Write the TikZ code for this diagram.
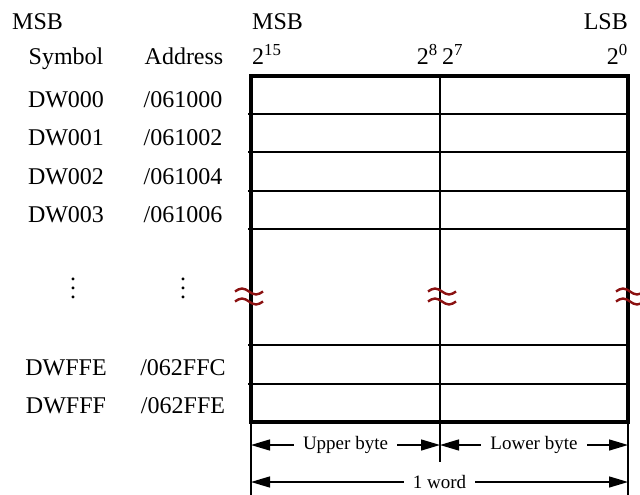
\documentclass[tikz,border=0pt]{standalone}
\usepackage{fontspec}
\setmainfont{Liberation Serif}
\usetikzlibrary{arrows.meta,calc}
\definecolor{breakred}{HTML}{8B1212}
\newcommand{\coldots}{\vbox{\baselineskip=9pt\lineskiplimit=-10pt\hbox{.}\hbox{.}\hbox{.}}}
\tikzset{
  txt/.style={font=\fontsize{24}{28}\selectfont, inner sep=0pt},
  dimlbl/.style={font=\fontsize{19}{22}\selectfont, fill=white, inner xsep=9pt, inner ysep=2pt},
  outer/.style={line width=4pt},
  inner/.style={line width=2pt},
  ext/.style={line width=1.4pt},
  dimarr/.style={{Triangle[length=19pt,width=11pt]}-{Triangle[length=19pt,width=11pt]}, line width=1.4pt},
  brkline/.style={draw=breakred, line width=2.4pt},
  gapmark/.pic={
    \draw[brkline] (-14,-4.5) sin (-7,-7.5) cos (0,-4.5) sin (7,-1.5) cos (14,-4.5);
    \draw[brkline] (-14,5.5) sin (-7,2.5) cos (0,5.5) sin (7,8.5) cos (14,5.5);
  }
}
\begin{document}
\begin{tikzpicture}[x=1pt, y=-1pt]
  \useasboundingbox (0,0) rectangle (640,495);

  % headings
  \node[txt, anchor=base west] (msbL) at (12,30) {MSB};
  \node[txt, anchor=base west] (msbR) at (252,30) {MSB};
  \node[txt, anchor=base east] (lsb) at (628,30) {LSB};
  \node[txt, anchor=base] (symhead) at (66,65) {Symbol};
  \node[txt, anchor=base] (addrhead) at (184,65) {Address};
  \node[txt, anchor=base west] (bit15) at (252,65) {2\textsuperscript{15}};
  \node[txt, anchor=base east] (bit8) at (438,65) {2\textsuperscript{8}};
  \node[txt, anchor=base west] (bit7) at (442,65) {2\textsuperscript{7}};
  \node[txt, anchor=base east] (bit0) at (628,65) {2\textsuperscript{0}};

  % symbols and addresses
  \foreach \sym/\num/\y [count=\i] in {DW000/061000/107, DW001/061002/145.5,
      DW002/061004/184, DW003/061006/222.5, DWFFE/062FFC/375, DWFFF/062FFE/413}{
    \node[txt, anchor=base] (sym\i) at (66,\y) {\sym};
    \node[txt, anchor=base] (addr\i) at (183,\y) {/\num};
  }
  \node[txt] (symdots) at (73,288) {\coldots};
  \node[txt] (addrdots) at (183,288) {\coldots};

  % word box
  \coordinate (tl) at (251,76);
  \coordinate (br) at (628,422);
  \coordinate (midtop) at (440,76);
  \coordinate (midbot) at (440,462);
  \foreach \y in {113.5,152,190.5,229,345,383.5}
    \draw[inner] (248,\y) -- (628,\y);
  \draw[inner] (midtop) -- (midbot);
  \draw[outer] (tl) rectangle (br);

  % breaks
  \pic at (249,296) {gapmark};
  \pic at (442,296) {gapmark};
  \pic at (630,296) {gapmark};

  % dimensions
  \coordinate (extL) at (251,495);
  \coordinate (extR) at (628,495);
  \draw[ext] (tl |- br) -- (extL);
  \draw[ext] (br) -- (extR);
  \coordinate (upL) at (251,445);
  \coordinate (upR) at (440,445);
  \coordinate (loR) at (628,445);
  \coordinate (wordL) at (251,482);
  \coordinate (wordR) at (628,482);
  \draw[dimarr] (upL) -- node[dimlbl] (upper) {Upper byte} (upR);
  \draw[dimarr] (upR) -- node[dimlbl] (lower) {Lower byte} (loR);
  \draw[dimarr] (wordL) -- node[dimlbl] (word) {1 word} (wordR);
\end{tikzpicture}
\end{document}
